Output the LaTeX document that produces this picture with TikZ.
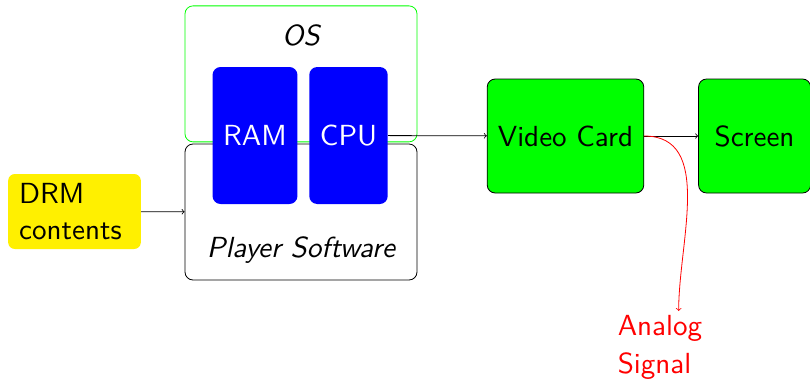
\documentclass[tikz,border=0pt]{standalone}
\usepackage{fontspec}
\setsansfont{lmsans10-regular.otf}[ItalicFont=lmsans10-oblique.otf]
\usepackage{tikz}
\usetikzlibrary{positioning}

\definecolor{drmyellow}{RGB}{255,240,0}

\begin{document}
\begin{tikzpicture}[
  x=0.75pt, y=-0.75pt,
  font=\sffamily\fontsize{21.8}{27}\selectfont,
  line width=0.6pt,
  frame/.style={draw, rounded corners=6pt, minimum width=174pt, minimum height=102pt},
  chip/.style={fill=blue, text=white, rounded corners=6pt, inner xsep=8pt, minimum height=102.75pt},
  box/.style={draw, fill=green, rounded corners=6pt, inner xsep=8pt, minimum width=84pt, minimum height=85.5pt},
  arr/.style={->}
]
\useasboundingbox (0,0) rectangle (810,379);

\node[frame] (player) at (301,212) {};
\node[frame, draw=green, above=1pt of player] (os) {};
\node[yshift=28.5pt] (ostext) at (os.center) {\itshape OS};
\node[yshift=-28.5pt] (playertext) at (player.center) {\itshape Player Software};

\node[chip] (ram) at (255,135.5) {RAM};
\node[chip, right=8.25pt of ram] (cpu) {CPU};

\node[fill=drmyellow, rounded corners=5pt, align=left, text width=83pt, inner xsep=8.25pt, minimum height=56.25pt] (drm) at (74.5,211.5) {DRM\\contents};

\node[box] (vc) at (565.5,136) {Video Card};
\node[box, right=40.5pt of vc] (screen) {Screen};

\node[text=red, align=left, anchor=north, inner sep=3pt, font=\sffamily\fontsize{21.8}{28.5}\selectfont] (analog) at (660,311) {Analog\\Signal};

\draw[arr] (drm) -- (player);
\draw[arr] (cpu) -- (vc);
\draw[arr] (vc) -- (screen);
\draw[arr, red] (vc.east) to[out=0, in=90] ([xshift=14pt]analog.north);
\end{tikzpicture}
\end{document}
